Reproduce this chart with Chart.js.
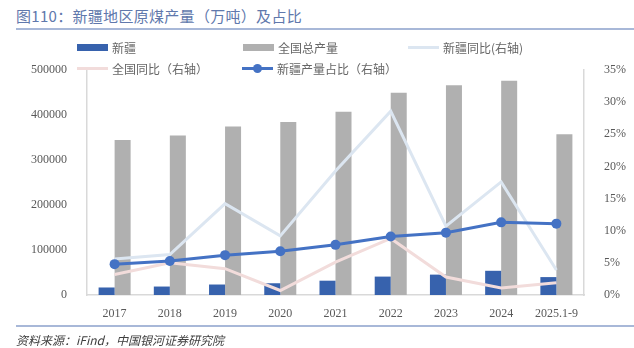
<!DOCTYPE html>
<html>
<head>
<meta charset="utf-8">
<script src="https://cdn.jsdelivr.net/npm/chart.js@4/dist/chart.umd.min.js"></script>
<style>
  body { margin: 0; background: #fff; font-family: "Noto Sans CJK SC", "Noto Sans", sans-serif; }
  .wrap { position: relative; width: 634px; height: 348px; overflow: hidden; }
  .title { position: absolute; left: 16px; top: 5px; font-size: 15px; color: #6078ac; letter-spacing: 0.3px; }
  .rule { position: absolute; left: 16px; right: 0; height: 2px; background: #a8b8d8; }
  .source { position: absolute; left: 16px; top: 331px; font-size: 12px; font-style: italic; color: #404040; }
  canvas { position: absolute; left: 0; top: 0; }
  .legend { position: absolute; left: 0; top: 0; font-size: 12px; color: #666; }
  .legend .item { position: absolute; display: flex; align-items: center; white-space: nowrap; }
  .legend .sw { width: 31px; margin-right: 4px; position: relative; }
  .legend .dot { position: absolute; left: 11px; top: -3px; width: 9px; height: 9px; border-radius: 50%; }
</style>
</head>
<body>
<div class="wrap">
  <div class="title">图110：新疆地区原煤产量（万吨）及占比</div>
  <div class="rule" style="top:28px"></div>
  <canvas id="coalChart" width="634" height="348"></canvas>
  <div class="legend" id="legend"></div>
  <div class="rule" style="top:325px"></div>
  <div class="source">资料来源：iFind，中国银河证券研究院</div>
</div>
<script>
// Categories and series (万吨 / %)
const years = ["2017", "2018", "2019", "2020", "2021", "2022", "2023", "2024", "2025.1-9"];
const xinjiangOutput = [16700, 18800, 23300, 26100, 31800, 40900, 45300, 53800, 39800];
const nationalOutput = [344600, 354600, 374600, 384400, 407100, 449600, 466000, 476000, 357000];
const xinjiangYoY = [5.6, 6.3, 14.2, 9.2, 19.3, 28.6, 10.7, 17.6, 3.9];
const nationalYoY = [3.2, 5.0, 4.1, 0.7, 5.1, 8.8, 2.8, 1.1, 1.9];
const xinjiangShare = [4.8, 5.3, 6.2, 6.8, 7.8, 9.1, 9.7, 11.3, 11.1];

const leftTicks = [0, 100000, 200000, 300000, 400000, 500000];
const rightTicks = [0, 5, 10, 15, 20, 25, 30, 35];

const tickFont = { family: "'Liberation Serif', 'DejaVu Serif', serif", size: 12 };
const tickColor = "#595959";
const axisColor = "#d9d9d9";

const datasets = [
  { type: "bar", label: "新疆", data: xinjiangOutput, backgroundColor: "#3762ad",
    yAxisID: "y", order: 10, categoryPercentage: 0.58, barPercentage: 1.0 },
  { type: "bar", label: "全国总产量", data: nationalOutput, backgroundColor: "#b0b0b0",
    yAxisID: "y", order: 10, categoryPercentage: 0.58, barPercentage: 1.0 },
  { type: "line", label: "新疆同比(右轴)", data: xinjiangYoY, borderColor: "#dce6f1",
    borderWidth: 3, pointRadius: 0, yAxisID: "y1", order: 3, tension: 0 },
  { type: "line", label: "全国同比（右轴）", data: nationalYoY, borderColor: "#f2dcdb",
    borderWidth: 3, pointRadius: 0, yAxisID: "y1", order: 2, tension: 0 },
  { type: "line", label: "新疆产量占比（右轴）", data: xinjiangShare, borderColor: "#4472c4",
    backgroundColor: "#4472c4", borderWidth: 3, pointRadius: 5, pointBorderWidth: 0,
    yAxisID: "y1", order: 1, tension: 0 }
];

new Chart(document.getElementById("coalChart"), {
  data: { labels: years, datasets: datasets },
  options: {
    responsive: false,
    animation: false,
    layout: { padding: { top: 70, bottom: 30, left: 0, right: 0 } },
    plugins: { legend: { display: false }, tooltip: { enabled: false } },
    scales: {
      x: {
        grid: { display: false },
        border: { color: axisColor, width: 1.5 },
        ticks: { font: tickFont, color: tickColor, padding: 4, maxRotation: 0 },
        afterFit: (s) => { s.height = 23; }
      },
      y: {
        position: "left", min: 0, max: 500000,
        grid: { display: false },
        border: { color: axisColor, width: 1.5 },
        afterBuildTicks: (s) => { s.ticks = leftTicks.map(v => ({ value: v })); },
        ticks: { font: tickFont, color: tickColor, padding: 12, callback: (v) => String(v) },
        afterFit: (s) => { s.width = 87; }
      },
      y1: {
        position: "right", min: 0, max: 35,
        grid: { display: false },
        border: { color: axisColor, width: 1.5 },
        afterBuildTicks: (s) => { s.ticks = rightTicks.map(v => ({ value: v })); },
        ticks: { font: tickFont, color: tickColor, padding: 12, callback: (v) => v + "%" },
        afterFit: (s) => { s.width = 50; }
      }
    }
  }
});

// Two-row legend laid out on a fixed grid
const legendSlots = [
  { ds: 0, left: 77, top: 39 },
  { ds: 1, left: 243, top: 39 },
  { ds: 2, left: 408, top: 39 },
  { ds: 3, left: 77, top: 60 },
  { ds: 4, left: 242, top: 60 }
];
const legendEl = document.getElementById("legend");
legendSlots.forEach(slot => {
  const ds = datasets[slot.ds];
  const item = document.createElement("div");
  item.className = "item";
  item.style.left = slot.left + "px";
  item.style.top = slot.top + "px";
  const sw = document.createElement("span");
  sw.className = "sw";
  if (ds.type === "bar") {
    sw.style.height = "7px";
    sw.style.background = ds.backgroundColor;
  } else {
    sw.style.height = "3px";
    sw.style.background = ds.borderColor;
    if (ds.pointRadius) {
      const dot = document.createElement("span");
      dot.className = "dot";
      dot.style.background = ds.borderColor;
      sw.appendChild(dot);
    }
  }
  item.appendChild(sw);
  item.appendChild(document.createTextNode(ds.label));
  legendEl.appendChild(item);
});
</script>
</body>
</html>
